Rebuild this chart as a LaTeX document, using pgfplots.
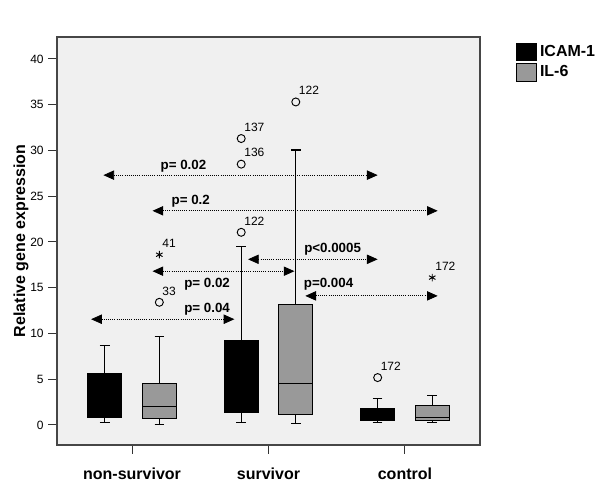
\documentclass[border=0pt]{standalone}
\usepackage{fontspec}
\setmainfont{Liberation Sans}
\usepackage{pgfplots}
\pgfplotsset{compat=1.18}
\usepgfplotslibrary{statistics}
\usetikzlibrary{arrows.meta}

\definecolor{panel}{RGB}{240,240,240}
\definecolor{boxgray}{RGB}{153,153,153}
\definecolor{framecol}{RGB}{70,70,70}

\pgfplotsset{
  bx/.style={boxplot/draw direction=y, boxplot/box extend=0.25,
    boxplot/whisker extend=0.07, draw=black, line width=0.8pt},
  pval/.style={densely dotted, line width=0.6pt, black,
    {Triangle[length=8pt,width=7pt]}-{Triangle[length=8pt,width=7pt]}},
  outl/.style={only marks, black, line width=0.7pt,
    point meta=explicit symbolic, nodes near coords,
    nodes near coords style={font=\fontsize{9}{10}\selectfont, anchor=south west,
      inner sep=0pt, xshift=2pt, yshift=5pt}},
}

\begin{document}
\begin{tikzpicture}
\useasboundingbox (-42.75pt,-36.75pt) rectangle (407.25pt,333.75pt);
\begin{axis}[
  at={(0pt,0pt)}, anchor=south west,
  scale only axis, width=317.25pt, height=306pt,
  xmin=0.45, xmax=3.55, ymin=-2.2, ymax=42.4,
  axis background/.style={fill=panel},
  axis line style={framecol, line width=0.8pt},
  xtick={1,2,3}, xticklabels={non-survivor,survivor,control},
  ytick={0,5,...,40},
  tick align=outside, tick pos=left,
  major tick length=6.5pt,
  every tick/.style={black!80, line width=0.8pt},
  /pgf/number format/assume math mode=true,
  xticklabel style={font=\fontsize{12}{14}\selectfont\bfseries, yshift=-7pt},
  yticklabel style={font=\fontsize{9}{10}\selectfont},
  ylabel={Relative gene expression},
  every axis y label/.style={at={(axis description cs:-0.085,0.5)}, rotate=90,
    anchor=center, font=\fontsize{12}{14}\selectfont\bfseries},
  legend style={at={(1,1)}, anchor=north west, xshift=24pt, yshift=-2pt,
    draw=none, fill=none, font=\fontsize{12}{14}\selectfont\bfseries,
    row sep=1.5pt},
  legend cell align=left,
  legend image code/.code={\draw[#1, draw=black, line width=0.6pt]
    (0pt,-6.5pt) rectangle (15pt,6.5pt);
    \path[draw=none, fill=none] (15.5pt,0pt);},
]

\addlegendimage{fill=black}
\addlegendentry{ICAM-1}
\addlegendimage{fill=boxgray}
\addlegendentry{IL-6}

% non-survivor
\addplot[bx, fill=black, boxplot prepared={draw position=0.8,
  lower whisker=0.25, lower quartile=0.84, median=2.5,
  upper quartile=5.65, upper whisker=8.67}] coordinates {};
\addplot[bx, fill=boxgray, boxplot prepared={draw position=1.2,
  lower whisker=0.07, lower quartile=0.73, median=2.0,
  upper quartile=4.55, upper whisker=9.65}] coordinates {};
% survivor
\addplot[bx, fill=black, boxplot prepared={draw position=1.8,
  lower whisker=0.25, lower quartile=1.35, median=4.0,
  upper quartile=9.2, upper whisker=19.5}] coordinates {};
\addplot[bx, fill=boxgray, boxplot prepared={draw position=2.2,
  lower whisker=0.1, lower quartile=1.1, median=4.55,
  upper quartile=13.2, upper whisker=30.05}] coordinates {};
% control
\addplot[bx, fill=black, boxplot prepared={draw position=2.8,
  lower whisker=0.25, lower quartile=0.44, median=1.0,
  upper quartile=1.75, upper whisker=2.88}] coordinates {};
\addplot[bx, fill=boxgray, boxplot prepared={draw position=3.2,
  lower whisker=0.25, lower quartile=0.47, median=0.84,
  upper quartile=2.1, upper whisker=3.2}] coordinates {};

% outliers
\addplot[outl, mark=o, mark size=3pt] coordinates {
  (1.2,13.4) [33]
  (1.8,21.05) [122]
  (1.8,28.5) [136]
  (1.8,31.3) [137]
  (2.2,35.3) [122]
  (2.8,5.17) [172]
};
\addplot[outl, mark=asterisk, mark size=2.8pt] coordinates {
  (1.2,18.6) [41]
  (3.2,16.1) [172]
};

% comparisons
\addplot[pval] coordinates {(0.79,27.3) (2.80,27.3)};
\addplot[pval] coordinates {(1.15,23.4) (3.24,23.4)};
\addplot[pval] coordinates {(1.85,18.1) (2.80,18.1)};
\addplot[pval] coordinates {(1.15,16.8) (2.19,16.8)};
\addplot[pval] coordinates {(0.70,11.55) (1.75,11.55)};
\addplot[pval] coordinates {(2.27,14.1) (3.24,14.1)};

\begin{scope}[every node/.style={font=\fontsize{10}{12}\selectfont\bfseries}]
\node at (axis cs:1.377,28.3) {p= 0.02};
\node at (axis cs:1.43,24.5) {p= 0.2};
\node at (axis cs:2.47,19.2) {p<0.0005};
\node at (axis cs:1.55,15.4) {p= 0.02};
\node at (axis cs:1.55,12.6) {p= 0.04};
\node at (axis cs:2.44,15.4) {p=0.004};
\end{scope}

\end{axis}
\end{tikzpicture}
\end{document}
